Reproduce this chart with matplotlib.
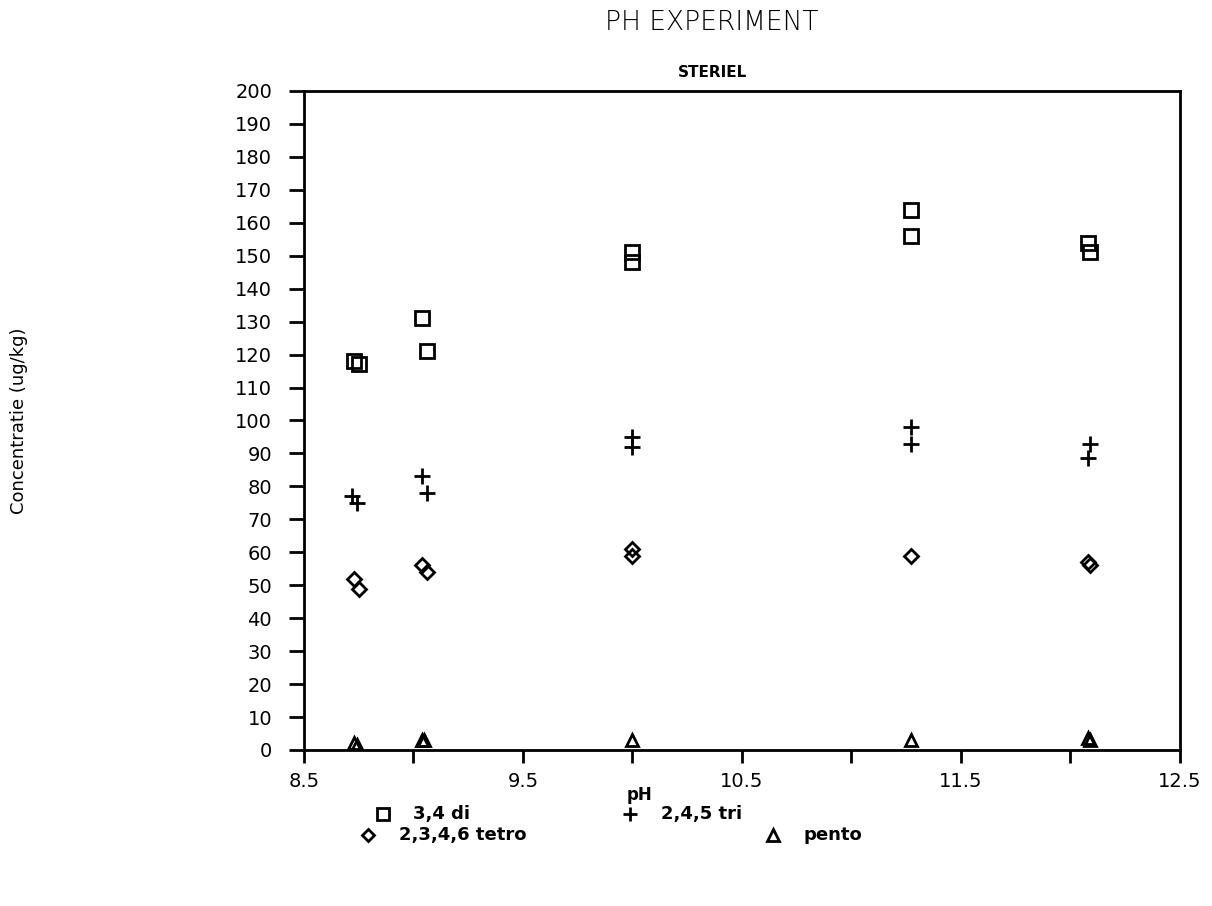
import numpy as np
import matplotlib.pyplot as plt

# pH experiment, steriel - concentraties per verbinding
ph_di = [8.73, 8.75, 9.04, 9.06, 10.0, 10.0, 11.27, 11.27, 12.08, 12.09]
c_di = [118, 117, 131, 121, 151, 148, 164, 156, 154, 151]

ph_tri = [8.72, 8.74, 9.04, 9.06, 10.0, 10.0, 11.27, 11.27, 12.09, 12.08]
c_tri = [77, 75, 83, 78, 95, 92, 98, 93, 93, 88.5]

ph_tetro = [8.73, 8.75, 9.04, 9.06, 10.0, 10.0, 11.27, 12.08, 12.09]
c_tetro = [52, 49, 56, 54, 61, 59, 59, 57, 56]

ph_pento = [8.73, 8.74, 9.04, 9.05, 10.0, 11.27, 12.08, 12.09]
c_pento = [2, 1.5, 3, 3, 3, 3, 3.5, 3]

xticks = [8.5, 9.0, 9.5, 10.0, 10.5, 11.0, 11.5, 12.0, 12.5]
xticklabels = ["8.5", "", "9.5", "", "10.5", "", "11.5", "", "12.5"]

plt.rcParams['font.family'] = 'DejaVu Sans'

fig = plt.figure(figsize=(12.12, 9.06), dpi=100)
ax = fig.add_axes([0.2508, 0.1722, 0.7228, 0.7274])

ms = dict(color='black', linestyle='none', markerfacecolor='none', markeredgewidth=2)
ax.plot(ph_di, c_di, marker='s', markersize=10, **ms)
ax.plot(ph_tri, c_tri, marker='+', markersize=11, **ms)
ax.plot(ph_tetro, c_tetro, marker='D', markersize=7, **ms)
ax.plot(ph_pento, c_pento, marker='^', markersize=9, **ms)

ax.set_xlim(8.5, 12.5)
ax.set_ylim(0, 200)
ax.set_xticks(xticks)
ax.set_xticklabels(xticklabels)
ax.set_yticks(np.arange(0, 201, 10))

for s in ax.spines.values():
    s.set_linewidth(2)
ax.tick_params(axis='y', direction='out', length=11, width=2, labelsize=14, pad=12)
ax.tick_params(axis='x', direction='out', length=9, width=2, labelsize=14, pad=7)

ax.set_ylabel("Concentratie (ug/kg)", fontsize=13, labelpad=0)
ax.yaxis.set_label_coords(-0.315, 0.5)

fig.text(0.5875, 0.975, "PH EXPERIMENT", ha='center', va='center', fontsize=19, fontweight='light')
fig.text(0.5875, 0.920, "STERIEL", ha='center', va='center', fontsize=11, fontweight='bold')
fig.text(0.528, 0.1225, "pH", ha='center', va='center', fontsize=12, fontweight='bold')

# legenda onder de grafiek
legend_items = [
    (0.316, 0.102, 's', 9, "3,4 di"),
    (0.520, 0.102, '+', 10, "2,4,5 tri"),
    (0.304, 0.078, 'D', 6, "2,3,4,6 tetro"),
    (0.638, 0.078, '^', 8, "pento"),
]
for x, y, m, size, label in legend_items:
    fig.lines.append(plt.Line2D([x], [y], marker=m, markersize=size, color='black',
                                markerfacecolor='none', markeredgewidth=2,
                                linestyle='none', transform=fig.transFigure))
    fig.text(x + 0.025, y, label, ha='left', va='center', fontsize=13, fontweight='bold')

fig.savefig("out.png", dpi=100)
